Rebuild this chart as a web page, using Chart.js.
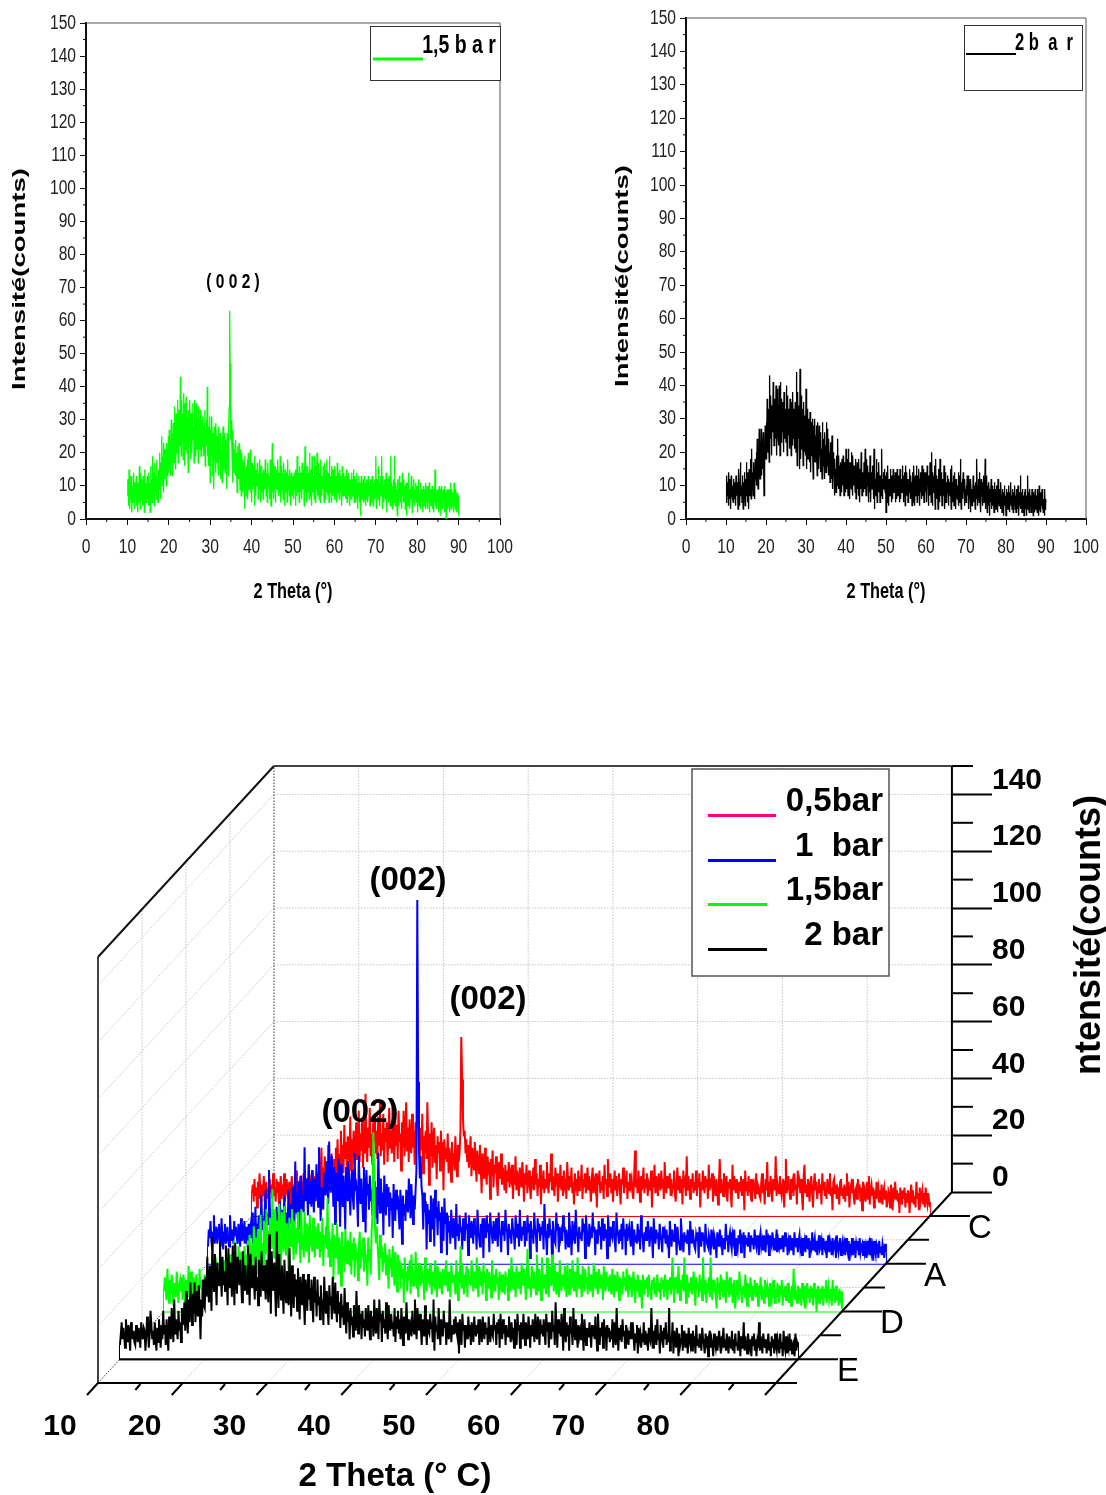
<!DOCTYPE html>
<html>
<head>
<meta charset="utf-8">
<script src="https://cdn.jsdelivr.net/npm/chart.js@4"></script>
<style>
  html, body { margin: 0; padding: 0; background: #fff; }
  body { position: relative; width: 1106px; height: 1495px; overflow: hidden; }
  canvas { position: absolute; display: block; }
</style>
</head>
<body>
<canvas id="chartGreen" width="530" height="620" style="left:0;top:0"></canvas>
<canvas id="chartBlack" width="506" height="620" style="left:600px;top:0"></canvas>
<canvas id="chartStack" width="1106" height="875" style="left:0;top:620px"></canvas>
<script>
// scan grid, one value every thetaStep degrees starting at thetaStart
const thetaStart = 10;
const thetaStep = 0.1;

const bar05Values = [
    8,11,5,13,7,10,3,12,6,15,8,4,11,7,14,5,9,12,6,10,4,13,8,11,6,
    15,7,10,5,13,8,12,4,9,14,6,11,7,15,5,10,13,8,6,12,3,9,14,7,11,
    6,13,8,16,5,11,9,14,7,12,6,15,9,10,5,13,8,18,7,12,10,16,6,14,9,
    11,7,15,10,19,8,13,24,9,17,12,21,10,14,8,25,13,18,11,22,9,16,20,12,24,
    14,27,16,22,13,30,18,25,15,32,20,26,17,28,22,19,35,16,27,21,30,18,24,33,20,
    26,37,19,29,23,34,17,28,22,43,25,19,31,24,38,21,29,18,33,26,36,22,30,20,35,
    25,40,21,29,23,36,18,31,26,33,19,28,38,24,30,22,41,27,19,35,25,32,20,37,26,
    29,16,33,24,37,21,28,40,23,31,19,34,26,22,36,24,30,18,33,25,21,35,27,20,31,
    23,36,15,28,22,30,20,40,26,11,29,21,33,17,27,31,19,25,13,28,22,26,16,30,21,
    26,9,27,20,24,19,29,15,24,21,12,26,18,22,16,28,20,14,25,19,22,30,63,48,34,
    28,30,22,27,19,25,17,22,28,14,24,20,16,26,18,12,23,19,15,25,17,8,22,18,13,
    24,16,11,21,17,19,6,20,14,23,10,18,15,21,12,7,19,16,13,22,11,17,14,9,18,
    8,16,12,19,10,15,13,18,6,14,11,21,9,16,12,7,17,13,10,19,14,5,15,11,18,
    8,13,16,10,6,14,12,17,9,20,11,15,7,13,10,18,4,14,12,16,8,13,10,19,11,
    8,15,12,22,9,14,11,7,17,13,15,5,12,10,18,9,14,7,16,11,13,6,19,12,9,
    14,10,17,8,12,4,15,11,13,7,16,9,14,11,18,6,13,10,15,8,12,17,9,14,10,
    5,13,17,8,12,10,15,3,14,11,16,8,12,9,14,6,18,11,13,7,20,10,12,15,8,
    13,5,11,16,9,14,7,12,15,10,4,13,11,17,8,14,10,16,6,12,9,15,11,13,8,
    6,14,23,10,13,8,16,11,5,14,9,12,17,8,13,10,15,7,12,11,9,16,3,13,10,
    18,8,14,11,7,15,12,9,16,10,13,6,19,11,8,14,10,12,15,7,13,9,11,16,8,
    5,12,17,9,14,8,11,13,4,16,10,12,7,21,9,14,11,6,13,10,15,8,12,9,16,
    7,13,10,15,3,12,9,16,11,8,14,10,13,6,18,9,12,11,15,5,14,10,7,13,9,
    4,12,20,8,13,10,7,15,11,9,14,5,12,10,13,8,3,18,9,14,11,8,13,10,6,
    12,9,14,7,11,13,2,16,9,12,7,14,10,8,13,5,11,12,9,6,15,8,11,10,7,
    6,12,15,8,11,4,13,9,19,7,12,10,14,8,5,13,11,9,21,7,12,10,8,14,9,
    7,11,13,3,12,20,8,11,14,9,6,13,10,12,7,15,9,11,4,16,10,12,8,13,7,
    2,14,18,8,11,7,13,10,5,12,14,8,3,11,15,9,12,6,10,13,8,11,4,15,9,
    12,7,10,6,13,11,8,15,7,10,2,12,13,8,11,6,10,9,4,12,13,7,10,6,11,
    5,10,15,7,12,3,9,11,8,13,7,4,9,10,6,13,8,11,5,10,2,12,7,9,5,
    8,12,6,14,4,9,11,7,10,3,9,6,12,8,10,5,9,7,11,4,8,10,6,9,3,
    5,9,8,3,11,7,2,10,8,12,6,9,5,8,1,10,7,4,9,6,10,3,8,5,9,
    7,1,8,11,5,9,4,7,3,12,6,8,2,10,5,7,9,4,8,3,10,6,4,8,5,
    3
];

const bar1Values = [
    6,12,9,15,8,5,11,17,7,10,13,7,12,14,8,6,16,10,5,11,14,7,9,13,8,
    6,17,11,8,12,7,15,10,13,9,7,14,11,6,16,8,12,10,15,7,13,9,6,14,11,
    13,9,18,7,12,10,20,8,14,11,17,9,13,24,12,16,10,19,26,13,18,14,33,20,15,
    9,14,18,11,16,8,20,13,17,10,22,14,12,19,11,24,15,13,18,12,26,16,14,21,13,
    27,21,14,36,18,25,16,29,22,12,31,19,24,18,41,22,30,26,17,35,21,29,20,33,25,
    18,30,22,35,27,20,41,26,15,27,23,19,32,26,24,36,29,21,43,28,25,38,31,20,34,
    14,32,27,22,37,25,13,35,26,20,31,24,12,34,28,22,36,25,17,29,33,23,19,39,27,
    28,22,13,38,27,21,30,24,15,34,26,11,33,24,28,19,31,22,26,17,35,21,29,16,27,
    14,39,26,18,30,21,25,10,31,23,17,28,20,27,13,25,19,23,9,28,21,15,26,19,24,
    18,12,26,20,7,24,17,21,15,26,22,18,30,25,16,28,21,14,24,19,26,33,128,64,40,
    30,38,27,24,12,25,18,22,5,21,14,19,8,24,17,12,23,6,26,16,20,10,22,15,18,
    4,20,13,8,23,14,18,3,17,11,15,7,19,13,9,16,12,5,21,10,14,8,17,11,13,
    5,16,10,8,18,12,14,3,17,11,9,15,12,7,16,10,13,5,19,13,9,6,14,11,16,
    2,16,12,9,17,11,14,4,18,13,10,7,15,11,8,16,12,6,18,12,10,4,15,10,13,
    8,19,13,11,3,14,9,12,7,16,12,10,5,17,13,9,14,6,19,11,8,13,10,15,6,
    13,8,17,11,14,2,15,9,12,7,18,12,10,4,16,11,14,8,13,10,15,5,21,12,9,
    3,14,9,16,10,12,1,15,11,8,7,18,12,14,4,13,9,11,8,17,11,13,5,12,10,
    6,18,13,10,3,15,10,12,7,19,12,9,4,13,9,11,8,16,11,14,2,17,12,8,6,
    14,9,11,9,18,11,13,3,12,9,7,15,10,13,5,16,11,8,14,9,12,2,17,12,6,
    13,10,9,15,11,8,4,18,12,10,7,12,8,14,5,16,10,12,3,14,8,11,13,9,6,
    15,11,3,12,8,10,7,14,10,12,5,17,11,9,4,11,8,13,8,15,12,6,10,13,9,
    2,16,10,7,12,9,11,5,14,10,8,4,13,9,11,7,12,8,10,2,15,10,6,12,9,
    8,14,11,3,13,9,7,5,16,11,8,4,11,8,10,7,12,9,3,15,10,7,12,9,6,
    5,10,8,11,2,13,9,6,11,8,10,4,14,9,7,6,10,8,3,12,8,10,5,9,7,
    2,11,8,6,12,8,10,3,9,7,5,14,8,10,4,9,11,7,5,10,8,12,3,9,7,
    5,10,7,12,4,9,8,11,2,10,7,9,6,11,8,4,10,7,9,5,12,8,6,10,7,
    3,9,11,6,8,5,10,7,4,12,8,9,3,10,7,6,11,8,5,9,7,12,4,8,6,
    9,5,7,10,4,8,11,6,9,3,8,6,10,5,9,7,3,11,7,6,9,4,8,10,5,
    7,3,9,6,8,4,10,7,5,9,2,8,6,11,5,7,9,4,8,3,7,10,5,6,8,
    3,9,6,5,8,2,7,10,4,8,6,3,9,5,7,8,2,10,6,4,7,9,3,6,8,
    5,7,3,9,6,4,8,1,7,5,9,3,6,8,2,7,5,8,3,9,4,6,7,3,8,
    4,6,2,8,5,7,3,9,4,6,1,8,5,3,7,6,2,8,4,6,3,7,5,2,7,
    4
];

const bar15Values = [
    7,12,9,4,15,8,3,11,6,13,9,2,10,7,5,14,9,3,9,11,7,12,4,13,8,
    2,11,7,5,16,9,3,14,10,6,12,8,4,13,7,9,2,15,8,11,5,10,7,13,6,
    9,4,14,8,11,2,16,7,12,9,5,19,10,7,14,4,17,11,8,13,6,18,9,12,5,
    15,11,9,20,14,6,17,12,25,15,10,19,8,23,17,12,21,14,18,10,23,16,20,13,25,
    14,27,19,16,24,13,30,21,18,26,13,29,23,17,34,21,24,15,32,22,20,36,25,17,28,
    33,26,22,43,27,19,36,29,24,32,18,38,26,16,35,28,21,37,26,20,31,24,14,33,27,
    23,36,25,18,32,26,20,29,35,24,28,17,36,22,27,19,35,25,21,31,26,17,34,23,28,
    21,33,24,19,30,25,22,31,26,19,28,21,33,16,27,24,30,22,40,19,28,16,25,22,31,
    11,27,21,19,31,24,13,26,20,9,28,19,23,14,29,20,17,25,21,16,28,13,24,18,26,
    12,24,18,21,11,23,28,15,22,19,26,14,24,17,20,9,26,18,22,13,28,34,63,47,30,
    24,30,24,18,11,27,19,23,14,21,17,24,13,20,16,8,22,15,19,12,23,16,9,21,14,
    7,20,13,18,8,17,12,15,3,19,12,14,7,16,11,18,6,20,13,9,14,11,21,8,15,
    5,17,12,9,16,10,13,4,19,13,7,15,11,10,17,12,6,14,10,9,18,12,5,16,11,
    8,14,10,6,15,11,13,9,18,12,7,14,10,5,17,12,10,13,9,6,18,11,4,14,10,
    23,8,17,11,6,13,9,16,5,15,10,12,9,18,12,7,14,10,8,19,11,5,16,12,9,
    14,6,17,10,13,4,15,11,8,14,10,5,18,11,9,13,7,15,10,12,4,14,9,11,7,
    13,10,6,14,9,12,4,15,10,7,19,12,8,14,11,5,16,11,8,14,10,6,17,12,9,
    15,11,4,13,22,8,12,10,5,16,11,8,14,10,6,20,12,7,15,11,4,19,12,8,13,
    10,6,19,12,5,16,11,9,20,13,7,17,11,6,14,10,5,18,12,7,13,10,9,16,11,
    5,17,10,6,15,12,8,18,11,7,14,10,5,19,12,8,13,9,5,16,11,7,15,10,12,
    6,16,10,7,13,11,5,17,11,8,14,9,6,15,12,8,13,10,4,16,11,7,14,9,12,
    7,13,9,6,15,10,5,13,9,7,14,9,4,12,8,11,6,14,9,12,7,15,10,5,13,
    8,12,5,10,14,8,3,11,7,13,9,5,11,8,1,13,9,6,11,8,12,5,13,9,7,
    4,11,8,12,6,10,5,13,9,7,10,4,12,8,11,5,13,7,9,4,11,8,12,6,9,
    19,9,3,12,8,10,6,16,10,4,11,8,13,7,19,10,3,13,9,5,10,7,12,6,9,
    14,8,2,12,8,10,5,13,7,9,4,19,9,6,11,3,10,7,12,5,19,8,4,11,7,
    9,6,1,12,8,10,4,13,7,9,5,11,8,3,14,7,9,5,12,6,10,3,8,11,1,
    6,11,8,4,14,9,7,3,9,7,6,13,8,2,10,7,5,12,8,4,9,6,11,5,8,
    10,2,9,6,12,4,8,7,3,11,8,5,9,7,2,10,6,4,9,7,11,3,8,5,10,
    7,3,9,6,11,2,8,5,9,4,7,10,3,8,6,2,9,5,15,4,8,6,3,9,7,
    5,8,2,10,6,4,9,1,7,10,5,8,3,9,6,7,2,10,5,8,0,6,9,3,8,
    4,7,9,2,8,5,11,3,7,9,4,6,8,2,11,5,8,3,9,4,7,2,8,5,7,
    1
];

const bar2Values = [
    5,9,13,7,11,8,4,14,9,6,12,8,3,13,10,7,10,6,5,12,9,6,11,8,4,
    13,9,7,11,10,3,8,15,11,4,9,17,12,7,10,5,13,8,3,11,6,14,9,4,12,
    7,17,9,12,5,14,8,3,15,10,7,18,12,6,21,9,14,11,7,17,10,13,6,18,12,
    14,20,10,24,16,9,21,13,27,18,12,23,16,27,13,19,24,15,26,18,7,21,15,28,19,
    18,29,22,36,25,20,33,24,17,43,28,24,37,27,19,34,28,26,41,30,22,36,26,31,24,
    40,29,19,39,27,25,34,22,40,31,19,41,28,23,36,30,26,35,27,20,38,29,24,33,26,
    23,40,30,19,37,27,25,33,28,21,36,24,29,19,35,30,22,38,27,24,33,26,21,35,28,
    20,44,29,16,38,28,24,34,25,15,45,27,18,37,26,21,33,24,16,35,25,20,31,26,19,
    39,26,15,33,23,18,30,22,28,17,32,24,14,29,22,19,30,21,12,28,23,17,30,21,25,
    17,28,20,13,29,20,24,15,28,19,22,14,26,18,21,12,29,20,16,24,18,12,26,19,22,
    14,29,20,16,27,18,13,24,16,20,11,23,15,19,12,25,16,9,20,13,17,7,18,12,15,
    8,19,14,10,24,14,9,19,12,16,7,17,11,14,8,18,12,10,19,13,7,17,11,15,8,
    21,12,9,18,13,7,21,13,16,6,17,11,14,9,20,12,7,19,12,10,16,11,13,8,18,
    6,15,11,17,9,14,7,18,12,5,15,11,9,20,13,7,14,10,12,8,17,11,9,21,13,
    7,18,12,10,16,11,5,14,10,8,19,11,5,14,10,9,16,11,13,6,21,3,15,10,12,
    7,18,11,5,14,10,8,17,11,13,5,13,9,7,21,11,6,12,9,14,9,15,10,8,13,
    2,14,9,5,16,10,12,4,12,9,7,15,10,12,5,13,9,6,15,10,8,12,9,14,5,
    14,10,6,15,10,7,13,9,11,5,15,10,6,12,9,8,16,10,12,5,13,9,14,4,16,
    10,7,14,9,12,5,12,9,8,15,10,6,13,9,11,4,14,9,5,16,10,12,4,13,9,
    7,16,10,5,13,9,7,15,11,4,12,8,14,10,6,16,9,7,15,10,5,14,9,12,8,
    14,9,5,16,10,13,4,13,9,7,17,10,12,5,20,11,4,14,9,13,8,16,10,3,18,
    10,6,13,8,12,3,15,9,11,5,18,10,7,14,9,4,12,8,10,7,16,9,3,14,9,
    5,11,8,8,13,9,4,12,8,11,7,15,9,3,16,9,5,11,8,13,4,14,9,10,3,
    12,8,11,6,10,7,14,4,13,8,5,18,9,3,11,7,12,6,14,8,10,4,12,7,9,
    5,10,7,13,7,13,8,3,9,6,12,2,11,7,9,4,9,6,13,5,10,7,9,3,11,
    7,6,18,9,4,10,8,12,5,14,7,9,2,12,8,10,4,11,7,13,5,9,6,18,3,
    8,6,13,2,10,7,4,11,8,1,9,5,7,12,3,8,10,4,9,6,2,11,7,5,9,
    3,10,6,8,2,12,5,7,4,9,6,3,11,7,5,2,9,6,8,1,8,10,4,7,5,
    1,9,6,4,8,3,7,10,5,2,8,6,11,4,7,3,9,5,2,8,6,4,10,3,7,
    2,9,5,6,3,10,7,1,8,4,6,13,3,8,5,2,9,6,4,7,1,8,5,9,3,
    7,1,6,4,13,3,8,5,2,9,6,4,7,2,5,9,3,6,1,8,4,7,2,9,5,
    3,7,5,2,9,4,6,1,10,5,3,8,2,6,4,9,3,7,2,5,6,1,9,3,6,
    5
];

const stackThetaTicks = [10, 20, 30, 40, 50, 60, 70, 80];
const stackCountTicks = [0, 20, 40, 60, 80, 100, 120, 140];
const stackLabels = ['0,5bar', '1  bar', '1,5bar', '2 bar'];
const stackLetters = ['C', 'A', 'D', 'E'];

const green = '#00ff00';
const sans = '"Liberation Sans", Arial, sans-serif';

function toPoints(values) {
    return values.map((v, i) => ({ x: thetaStart + i * thetaStep, y: v }));
}

function line(ctx, x1, y1, x2, y2) {
    ctx.beginPath();
    ctx.moveTo(x1, y1);
    ctx.lineTo(x2, y2);
    ctx.stroke();
}

function text(ctx, str, x, y, font, align, sx, color) {
    ctx.save();
    ctx.font = font;
    ctx.fillStyle = color || '#000';
    ctx.textAlign = align || 'center';
    ctx.textBaseline = 'middle';
    ctx.translate(x, y);
    ctx.scale(sx || 1, 1);
    ctx.fillText(str, 0, 0);
    ctx.restore();
}

function yTitle(ctx, str, x, y, font, sx) {
    ctx.save();
    ctx.translate(x, y);
    ctx.rotate(-Math.PI / 2);
    text(ctx, str, 0, 0, font, 'center', sx);
    ctx.restore();
}

// The two flat plots on top
function flatChart(id, values, color, box, fit, notes) {
    const framePlugin = {
        id: 'frame',
        afterDraw(chart) {
            const c = chart.ctx, a = chart.chartArea, xs = chart.scales.x, ys = chart.scales.y;
            c.save();
            c.strokeStyle = '#555';
            c.lineWidth = 1;
            line(c, a.left, a.top, a.right, a.top);
            line(c, a.right, a.top, a.right, a.bottom);
            c.strokeStyle = '#111';
            for (let v = 5; v < 100; v += 10) {
                line(c, xs.getPixelForValue(v), a.bottom, xs.getPixelForValue(v), a.bottom + 3);
            }
            for (let v = 5; v < 150; v += 10) {
                line(c, a.left - 3, ys.getPixelForValue(v), a.left, ys.getPixelForValue(v));
            }
            c.fillStyle = '#fff';
            c.strokeStyle = '#333';
            c.fillRect(box.x, box.y, box.w, box.h);
            c.strokeRect(box.x + 0.5, box.y + 0.5, box.w, box.h);
            c.strokeStyle = color;
            c.lineWidth = box.lw;
            line(c, box.lx1, box.ly, box.lx2, box.ly);
            c.restore();

            // squeezed tick labels, the picture uses a condensed face
            xs.ticks.forEach(t => text(c, String(t.value), xs.getPixelForValue(t.value), 547, '20px ' + sans, 'center', 0.78, '#222'));
            ys.ticks.forEach(t => text(c, String(t.value), a.left - 10, ys.getPixelForValue(t.value), '20px ' + sans, 'right', 0.78, '#222'));
            text(c, '2 Theta (°)', (a.left + a.right) / 2, 592, 'bold 22px ' + sans, 'center', 0.74);
            notes(c);
        }
    };

    return new Chart(document.getElementById(id), {
        type: 'line',
        data: {
            datasets: [{
                data: toPoints(values),
                borderColor: color,
                borderWidth: 1.3,
                pointRadius: 0,
                tension: 0
            }]
        },
        options: {
            responsive: false,
            animation: false,
            layout: { autoPadding: false, padding: { top: fit.top, right: fit.right } },
            plugins: { legend: { display: false }, tooltip: { enabled: false } },
            scales: {
                x: {
                    type: 'linear',
                    min: 0,
                    max: 100,
                    afterFit(s) { s.height = 620 - 519; },
                    grid: { drawOnChartArea: false, tickLength: 6, tickColor: '#111' },
                    border: { color: '#111', width: 2 },
                    ticks: { stepSize: 10, autoSkip: false, display: false }
                },
                y: {
                    min: 0,
                    max: 150,
                    afterFit(s) { s.width = 86; },
                    grid: { drawOnChartArea: false, tickLength: 6, tickColor: '#111' },
                    border: { color: '#111', width: 2 },
                    ticks: { stepSize: 10, autoSkip: false, display: false }
                }
            }
        },
        plugins: [framePlugin]
    });
}

flatChart('chartGreen', bar15Values, green,
    { x: 370, y: 26, w: 130, h: 54, lx1: 373, lx2: 423, ly: 59, lw: 3 },
    { top: 23, right: 30 },
    c => {
        text(c, '1,5 b a r', 459, 46, 'bold 25px ' + sans, 'center', 0.78);
        text(c, '( 0 0 2 )', 233, 282, 'bold 21px ' + sans, 'center', 0.74);
        yTitle(c, 'Intensité(counts)', 20, 279, 'bold 18px ' + sans, 1.53);
    });

flatChart('chartBlack', bar2Values, '#000',
    { x: 364, y: 25, w: 118, h: 65, lx1: 366, lx2: 416, ly: 54, lw: 2 },
    { top: 18, right: 20 },
    c => {
        text(c, '2 b  a  r', 444, 44, 'bold 23px ' + sans, 'center', 0.72);
        yTitle(c, 'Intensité(counts)', 23, 276, 'bold 18px ' + sans, 1.53);
    });

// The oblique stack below: theta runs along the front, the depth goes to the back wall
const depthX = 5.19;
const depthY = 16.81;
const stackBottom = -4 * depthY;

function onStack(theta, count, depth) {
    return { x: theta + depth * depthX, y: count + (depth - 4) * depthY };
}

function stackTrace(values, depth, color, order) {
    return {
        data: values.map((v, i) => onStack(thetaStart + i * thetaStep, v, depth)),
        borderColor: color,
        backgroundColor: '#fff',
        borderWidth: 2,
        pointRadius: 0,
        tension: 0,
        order: order,
        fill: { value: onStack(0, 0, depth).y }
    };
}

function stackEdge(values, depth, color, order) {
    const end = thetaStart + (values.length - 1) * thetaStep;
    return {
        data: [
            onStack(thetaStart, values[0], depth),
            onStack(thetaStart, 0, depth),
            onStack(end, 0, depth),
            onStack(end, values[values.length - 1], depth)
        ],
        borderColor: color,
        borderWidth: 2,
        pointRadius: 0,
        tension: 0,
        order: order,
        fill: false
    };
}

const wallsPlugin = {
    id: 'walls',
    beforeDatasetsDraw(chart) {
        const c = chart.ctx, xs = chart.scales.x, ys = chart.scales.y;
        const seg = (a, b) => line(c,
            xs.getPixelForValue(a.x), ys.getPixelForValue(a.y),
            xs.getPixelForValue(b.x), ys.getPixelForValue(b.y));

        c.save();
        c.strokeStyle = '#c4c4c4';
        c.lineWidth = 1;
        c.setLineDash([1.5, 1.5]);
        for (let v = 20; v <= 140; v += 20) {
            seg(onStack(10, v, 4), onStack(90, v, 4));
            seg(onStack(10, v, 0), onStack(10, v, 4));
        }
        for (let t = 20; t <= 80; t += 10) {
            seg(onStack(t, 0, 4), onStack(t, 150, 4));
            seg(onStack(t, 0, 0), onStack(t, 0, 4));
        }
        for (let d = 1; d <= 3; d++) {
            seg(onStack(10, 0, d), onStack(10, 150, d));
            seg(onStack(10, 0, d), onStack(90, 0, d));
        }
        c.strokeStyle = '#333';
        seg(onStack(10, 0, 4), onStack(10, 150, 4));
        seg(onStack(10, 0, 0), onStack(10, 0, 4));
        c.setLineDash([]);
        c.strokeStyle = '#444';
        c.lineWidth = 2;
        seg(onStack(10, 150, 4), onStack(90, 150, 4));
        seg(onStack(10, 0, 0), onStack(10, 150, 0));
        c.strokeStyle = '#111';
        seg(onStack(10, 150, 0), onStack(10, 150, 4));
        c.restore();
    },
    afterDatasetsDraw(chart) {
        const c = chart.ctx, xs = chart.scales.x, ys = chart.scales.y;
        const px = p => xs.getPixelForValue(p.x);
        const py = p => ys.getPixelForValue(p.y);
        const seg = (a, b) => line(c, px(a), py(a), px(b), py(b));

        c.save();
        c.strokeStyle = '#000';
        c.lineWidth = 2;
        // back axis
        seg(onStack(90, 0, 4), onStack(90, 150, 4));
        for (let v = 10; v <= 150; v += 20) {
            const p = onStack(90, v, 4);
            line(c, px(p), py(p), px(p) + 21, py(p));
        }
        // floor edges and depth ticks
        seg(onStack(10, 0, 0), onStack(90, 0, 0));
        seg(onStack(90, 0, 0), onStack(90, 0, 4));
        line(c, px(onStack(90, 0, 0)), py(onStack(90, 0, 0)), px(onStack(90, 0, 0)) + 21, py(onStack(90, 0, 0)));
        [0.5, 1.5, 2.5, 3.5].forEach(d => {
            const p = onStack(90, 0, d);
            line(c, px(p), py(p), px(p) + 40, py(p));
        });
        [1, 2, 3].forEach(d => {
            const p = onStack(90, 0, d);
            line(c, px(p), py(p), px(p) + 21, py(p));
        });
        // black floor line of the front plane
        seg(onStack(10, 0, 0.5), onStack(90, 0, 0.5));
        // slanted theta ticks
        for (let t = 10; t <= 90; t += 10) {
            const p = onStack(t, 0, 0);
            line(c, px(p), py(p), px(p) - 11, py(p) + 12);
        }
        for (let t = 15; t <= 85; t += 10) {
            const p = onStack(t, 0, 0);
            line(c, px(p), py(p) + 1, px(p) - 5, py(p) + 7);
        }
        c.restore();

        // fixed annotations, in page coordinates
        c.save();
        c.translate(0, -620);
        c.fillStyle = '#fff';
        c.strokeStyle = '#555';
        c.lineWidth = 1.5;
        c.fillRect(692, 769, 197, 207);
        c.strokeRect(692, 769, 197, 207);
        const swatches = ['#ff0080', '#0000ff', green, '#000'];
        const swatchEnd = [776, 776, 767, 767];
        const rowY = [802, 847, 891, 936];
        stackLabels.forEach((label, i) => {
            c.strokeStyle = swatches[i];
            c.lineWidth = 3;
            line(c, 708, rowY[i] + 13.5, swatchEnd[i], rowY[i] + 13.5);
            text(c, label, 883, rowY[i], 'bold 33px ' + sans, 'right');
        });
        text(c, '(002)', 408, 881, 'bold 33px ' + sans);
        text(c, '(002)', 488, 1000, 'bold 33px ' + sans);
        text(c, '(002)', 360, 1113, 'bold 33px ' + sans);
        const letterX = [980, 935, 892, 848];
        const letterY = [1229, 1277, 1324, 1372];
        stackLetters.forEach((l, i) => text(c, l, letterX[i], letterY[i], '33px ' + sans));
        text(c, '2 Theta (° C)', 395, 1477, 'bold 33px ' + sans);
        yTitle(c, 'ntensité(counts)', 1090, 935, 'bold 36px ' + sans);
        c.restore();
    }
};

const stackChart = new Chart(document.getElementById('chartStack'), {
    type: 'line',
    data: {
        datasets: [
            stackTrace(bar05Values, 3.5, '#ff0000', 4),
            stackEdge(bar05Values, 3.5, '#ff0000', 4),
            stackTrace(bar1Values, 2.5, '#0000ff', 3),
            stackEdge(bar1Values, 2.5, '#0000ff', 3),
            stackTrace(bar15Values, 1.5, green, 2),
            stackEdge(bar15Values, 1.5, green, 2),
            stackTrace(bar2Values, 0.5, '#000000', 1),
            stackEdge(bar2Values, 0.5, '#000000', 1)
        ]
    },
    options: {
        responsive: false,
        animation: false,
        layout: { autoPadding: false, padding: { top: 146, left: 98 } },
        plugins: { legend: { display: false }, tooltip: { enabled: false } },
        scales: {
            x: {
                type: 'linear',
                bounds: 'data',
                min: 10,
                max: 110.65,
                afterFit(s) { s.height = 112; },
                afterBuildTicks(s) { s.ticks = stackThetaTicks.map(value => ({ value })); },
                grid: { display: false, drawTicks: false },
                border: { display: false },
                ticks: {
                    autoSkip: false,
                    maxRotation: 0,
                    padding: 26,
                    labelOffset: -38,
                    color: '#000',
                    font: { family: sans, size: 30, weight: 'bold' }
                }
            },
            y: {
                position: 'right',
                bounds: 'data',
                min: stackBottom,
                max: 150,
                afterFit(s) { s.width = 155; },
                afterBuildTicks(s) { s.ticks = stackCountTicks.map(value => ({ value })); },
                grid: { drawOnChartArea: false, tickLength: 41, tickColor: '#000', tickWidth: 2 },
                border: { display: false },
                ticks: {
                    autoSkip: false,
                    padding: 0,
                    labelOffset: -14,
                    color: '#000',
                    font: { family: sans, size: 30, weight: 'bold' }
                }
            }
        }
    },
    plugins: [wallsPlugin]
});
</script>
</body>
</html>
